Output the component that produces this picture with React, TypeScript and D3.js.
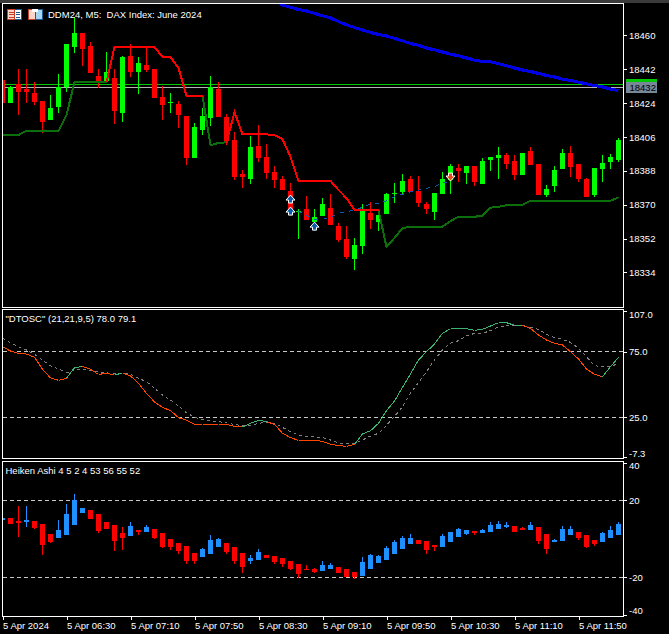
import { useEffect, useRef } from 'react';
import * as d3 from 'd3';

// main chart candles (DDM24, M5)
const mainOpen = [
  18436.3, 18424.3, 18434.2, 18431.6, 18429.4, 18425.2, 18415.1, 18422.0, 18432.4, 18453.9,
  18461.3, 18454.4, 18438.5, 18435.6, 18437.4, 18418.8, 18449.1, 18440.6, 18444.3, 18442.2,
  18427.3, 18424.1, 18423.6, 18417.2, 18394.9, 18409.8, 18416.1, 18431.5, 18416.6, 18404.4,
  18386.3, 18383.6, 18401.2, 18395.3, 18387.4, 18383.6, 18377.3, 18366.1, 18367.7, 18360.8,
  18364.0, 18368.2, 18358.6, 18351.7, 18341.1, 18348.0, 18365.6, 18360.8, 18365.0, 18375.7,
  18376.7, 18383.6, 18377.3, 18370.3, 18366.1, 18375.7, 18383.2, 18389.6, 18386.9, 18390.6,
  18381.0, 18393.8, 18394.9, 18396.5, 18393.3, 18385.8, 18398.6, 18391.6, 18375.2, 18380.0,
  18389.0, 18397.5, 18391.6, 18383.7, 18375.2, 18389.0, 18392.7, 18393.8,
];
const mainClose = [
  18424.3, 18432.4, 18430.0, 18430.0, 18424.6, 18414.0, 18421.5, 18432.4, 18455.5, 18461.3,
  18452.8, 18440.1, 18435.6, 18440.6, 18419.9, 18448.6, 18440.6, 18445.4, 18441.7, 18426.8,
  18423.0, 18424.6, 18417.7, 18394.9, 18411.3, 18417.2, 18432.4, 18416.6, 18403.9, 18384.7,
  18384.7, 18400.7, 18394.8, 18386.8, 18383.1, 18377.8, 18367.2, 18366.6, 18361.8, 18363.4,
  18370.3, 18359.2, 18351.2, 18342.2, 18348.5, 18366.6, 18361.8, 18364.5, 18375.7, 18376.2,
  18382.6, 18376.7, 18370.9, 18367.7, 18376.3, 18383.7, 18390.6, 18388.0, 18390.6, 18382.1,
  18393.3, 18395.4, 18396.5, 18391.6, 18385.8, 18397.5, 18391.1, 18375.2, 18378.4, 18388.5,
  18397.5, 18390.0, 18383.7, 18374.1, 18389.6, 18392.2, 18395.4, 18404.4,
];
const mainHigh = [
  18436.3, 18433.2, 18442.2, 18442.2, 18435.3, 18425.2, 18428.4, 18439.5, 18455.5, 18470.0,
  18461.3, 18456.6, 18442.2, 18451.2, 18442.2, 18449.1, 18455.5, 18448.6, 18453.9, 18442.2,
  18433.2, 18429.4, 18425.2, 18417.2, 18413.5, 18421.5, 18438.5, 18435.2, 18418.2, 18408.6,
  18388.4, 18406.5, 18412.4, 18402.3, 18390.6, 18385.2, 18381.5, 18367.7, 18374.6, 18367.7,
  18373.5, 18375.7, 18360.2, 18358.6, 18352.3, 18370.3, 18371.4, 18366.6, 18376.2, 18381.5,
  18386.3, 18385.2, 18385.2, 18371.4, 18376.3, 18387.4, 18391.7, 18391.7, 18390.6, 18390.6,
  18394.9, 18395.4, 18400.7, 18397.5, 18396.5, 18397.5, 18400.7, 18391.6, 18380.5, 18390.6,
  18399.7, 18401.3, 18391.6, 18384.2, 18389.6, 18396.5, 18397.0, 18405.5,
];
const mainLow = [
  18424.3, 18424.3, 18417.7, 18424.1, 18423.0, 18408.2, 18415.1, 18418.8, 18430.0, 18450.7,
  18443.8, 18440.1, 18432.1, 18435.3, 18412.9, 18414.0, 18437.9, 18428.9, 18440.6, 18426.8,
  18415.1, 18418.8, 18410.8, 18391.1, 18394.9, 18407.1, 18411.9, 18416.6, 18401.7, 18383.1,
  18378.9, 18381.0, 18392.7, 18383.6, 18378.9, 18377.8, 18367.2, 18351.7, 18361.8, 18360.8,
  18364.0, 18359.2, 18350.1, 18341.1, 18335.2, 18343.7, 18357.0, 18356.0, 18365.0, 18370.9,
  18375.1, 18376.7, 18368.7, 18365.0, 18361.9, 18375.7, 18375.7, 18382.1, 18381.0, 18380.0,
  18381.0, 18388.0, 18383.7, 18389.0, 18383.2, 18385.8, 18391.1, 18375.2, 18374.1, 18376.8,
  18389.0, 18384.7, 18382.1, 18374.1, 18374.1, 18382.1, 18389.0, 18392.7,
];

// trailing stop, green below / red above, n = no value on that bar
const n = null;
const stopUp = [
  18407.1, 18407.1, 18407.1, 18409.3, 18409.3, 18409.3, 18409.3, 18409.3, 18417.7, 18435.2,
  18435.2, 18435.2, 18435.2, 18435.2, n, n, n, n, n, n,
  n, n, n, n, n, 18427.8, 18401.7, 18402.8, 18403.2, n,
  n, n, n, n, n, n, n, n, n, n,
  n, n, n, n, n, n, n, 18367.2, 18347.5, 18352.3,
  18357.6, 18358.3, 18358.3, 18358.3, 18358.3, 18358.3, 18361.3, 18363.6, 18363.6, 18363.6,
  18364.1, 18368.4, 18368.9, 18369.7, 18370.0, 18370.0, 18372.1, 18372.1, 18372.1, 18372.1,
  18372.1, 18372.1, 18372.1, 18372.1, 18372.1, 18372.1, 18372.1, 18373.9,
];
const stopDown = [
  n, n, n, n, n, n, n, n, n, n,
  n, n, n, 18435.2, 18453.9, 18453.9, 18453.9, 18453.9, 18453.9, 18453.9,
  18448.5, 18448.5, 18442.7, 18427.8, 18427.8, 18427.8, n, n, 18402.8, 18419.3,
  18407.4, 18407.4, 18407.4, 18407.4, 18407.0, 18404.9, 18395.5, 18382.7, 18382.7, 18382.7,
  18382.7, 18382.7, 18377.8, 18373.5, 18367.2, 18367.2, 18367.2, 18367.2, n, n,
  n, n, n, n, n, n, n, n, n, n,
  n, n, n, n, n, n, n, n, n, n,
  n, n, n, n, n, n, n, n,
];

// slow average, starts above the visible range and comes down
const slowAvgStart = 34;
const slowAvg = [
  18478.9, 18476.2, 18474.9, 18473.8, 18473.0, 18471.7, 18470.4, 18469.3, 18467.4, 18465.6, 18464.2,
  18462.9, 18461.6, 18460.5, 18459.7, 18458.4, 18457.1, 18455.7, 18454.7, 18453.3, 18452.3,
  18451.2, 18450.1, 18449.1, 18448.0, 18446.9, 18446.1, 18445.9, 18445.1, 18443.8, 18442.7,
  18441.6, 18440.8, 18439.8, 18438.7, 18437.9, 18436.8, 18436.0, 18435.2, 18434.2, 18433.4,
  18432.6, 18431.5, 18430.7,
];

// dashed average between the first buy arrows and the sell arrow
const fastAvgStart = 37;
const fastAvg = [
  18366.6, 18364.5, 18362.2, 18362.2, 18363.3, 18365.4, 18366.3, 18367.2, 18368.6, 18370.4,
  18370.7, 18372.1, 18374.2, 18375.5, 18376.9, 18377.8, 18378.7, 18379.6, 18381.4, 18382.7,
];

const buyBars = [36, 36, 39];
const buyPrices = [18373.0, 18366.6, 18358.6];
const sellBars = [56];
const sellPrices = [18384.7];

const openLevel = 18434;
const bidLevel = 18432.4;
const priceTicks = [18460, 18442, 18424, 18406, 18388, 18370, 18352, 18334];

// DTOSC
const oscMain = [
  78.8, 75.5, 73.7, 73.2, 70.7, 61.6, 55.0, 53.2, 54.7, 62.8,
  63.8, 61.6, 57.7, 58.5, 57.2, 58.8, 56.5, 50.9, 43.3, 36.7,
  32.6, 30.1, 24.7, 22.9, 19.6, 19.1, 19.6, 19.9, 19.6, 18.1,
  17.6, 20.4, 22.7, 21.7, 19.6, 12.8, 9.5, 7.4, 7.4, 7.4,
  6.7, 4.4, 3.4, 2.9, 4.4, 12.3, 14.8, 20.4, 30.1, 37.4,
  47.8, 58.0, 68.7, 75.0, 80.9, 89.0, 92.5, 92.5, 92.5, 91.3,
  92.0, 94.6, 97.1, 97.1, 95.1, 95.1, 92.8, 87.7, 83.9, 81.4,
  80.1, 75.0, 69.4, 61.8, 57.7, 56.0, 63.6, 70.7,
];
const oscSignal = [
  85.2, 81.9, 78.8, 76.3, 73.0, 68.7, 64.3, 61.8, 59.0, 61.0,
  61.8, 60.8, 59.8, 59.0, 58.0, 58.5, 57.7, 54.7, 52.2, 47.1,
  42.0, 38.2, 33.6, 28.5, 25.0, 23.4, 22.4, 21.7, 20.7, 19.6,
  18.6, 18.6, 20.4, 21.2, 20.4, 17.3, 14.0, 11.5, 10.2, 10.0,
  9.5, 7.7, 5.4, 4.9, 4.9, 7.7, 10.7, 12.8, 18.9, 25.7,
  33.1, 43.3, 51.4, 59.8, 68.7, 76.3, 81.4, 83.4, 87.0, 89.0,
  89.0, 91.0, 94.1, 94.6, 95.1, 95.1, 93.6, 92.0, 88.2, 85.7,
  84.4, 82.1, 77.6, 71.2, 64.3, 63.6, 63.6, 66.1,
];
// bars where the main line is drawn green up to the next bar
const oscUpRanges = [[8, 10], [14, 15], [30, 33], [44, 65], [75, 77]];
const oscLevels = [75, 25];
const oscTicks = [107, 75, 25, -7.3];

// Heiken Ashi
const haOpen = [
  9.8, 10.8, 9.3, 8.7, 9.3, 7.7, 2.5, 0.4, 2.0, 7.2,
  13.4, 15.0, 12.9, 8.7, 7.2, 3.0, 1.4, 4.6, 3.5, 5.1,
  3.0, -0.1, -2.2, -3.7, -7.4, -9.5, -7.9, -4.3, -2.2, -4.3,
  -7.4, -11.5, -11.0, -8.4, -9.0, -10.0, -11.5, -13.1, -15.7, -15.7,
  -16.7, -15.7, -14.6, -15.7, -17.2, -19.3, -15.7, -12.6, -11.0, -7.9,
  -5.3, -2.7, -0.6, -1.1, -3.2, -4.3, -1.7, 0.9, 2.5, 4.1,
  3.0, 3.5, 5.1, 6.1, 6.7, 5.6, 4.6, 6.1, 2.5, -1.7,
  -1.1, 2.0, 3.5, 2.0, -0.6, -1.7, 0.4, 2.0,
];
const haClose = [
  10.8, 7.9, 8.2, 9.8, 5.6, -3.2, -1.7, 4.6, 12.9, 20.2,
  16.0, 10.3, 4.1, 5.1, -1.1, 0.4, 6.7, 3.5, 6.1, 0.4,
  -4.3, -4.3, -6.3, -11.5, -11.5, -5.3, -0.6, -0.1, -6.9, -11.5,
  -14.6, -10.0, -6.9, -10.0, -12.1, -13.1, -15.7, -18.3, -16.2, -17.2,
  -13.6, -13.6, -17.8, -19.8, -19.8, -12.1, -8.4, -9.0, -4.8, -1.7,
  0.4, 0.4, -2.7, -5.8, -4.3, 1.4, 3.5, 5.1, 4.6, 3.0,
  4.6, 7.2, 7.7, 7.2, 3.5, 4.8, 7.2, -1.1, -5.3, -0.6,
  5.1, 5.1, 0.4, -4.3, -2.7, 3.0, 4.6, 7.7,
];
const haHigh = [
  10.8, 10.8, 17.0, 17.0, 9.3, 7.7, 2.5, 9.8, 18.1, 23.3,
  16.0, 15.0, 12.9, 8.7, 7.2, 6.1, 8.7, 4.6, 7.2, 5.1,
  3.0, -0.1, -2.2, -3.7, -7.4, -4.8, 2.0, 0.4, -2.2, -4.3,
  -7.4, -8.4, -5.3, -8.4, -9.0, -10.0, -11.5, -13.1, -13.6, -15.2,
  -11.5, -12.6, -14.6, -15.7, -17.2, -9.5, -7.9, -8.4, -3.7, -0.6,
  1.4, 2.5, -0.6, -1.1, -3.2, 2.5, 3.5, 5.6, 4.6, 4.1,
  5.1, 8.7, 9.3, 8.7, 6.7, 6.1, 8.7, 6.1, 2.5, -0.1,
  6.7, 6.7, 3.5, 2.0, -0.6, 3.5, 6.7, 8.7,
];
const haLow = [
  9.8, 7.9, 0.9, 6.1, 5.1, -8.4, -2.2, 0.4, 2.0, 7.2,
  13.4, 10.3, 3.0, 5.1, -6.3, -5.8, 1.4, 2.0, 3.5, -0.1,
  -4.8, -5.8, -7.9, -13.1, -13.1, -9.5, -7.9, -4.3, -7.9, -13.1,
  -17.8, -13.1, -11.0, -10.0, -13.1, -14.6, -16.2, -20.4, -16.2, -17.8,
  -16.7, -15.7, -17.8, -19.8, -20.9, -19.3, -15.7, -12.6, -11.0, -7.9,
  -5.3, -2.7, -2.7, -7.9, -6.3, -4.3, -1.7, 0.9, 2.0, 2.0,
  3.0, 3.5, 5.1, 5.6, 3.5, 4.8, 4.6, -2.7, -7.9, -1.7,
  -1.1, 2.0, -0.6, -4.8, -3.7, -1.7, 0.4, 2.0,
];
const haLevels = [20, -20];
const haTicks = [40, 20, -20, -40];

const timeTickBars = [0, 8, 16, 24, 32, 40, 48, 56, 64, 72];
const timeLabels = [
  '5 Apr 2024', '5 Apr 06:30', '5 Apr 07:10', '5 Apr 07:50', '5 Apr 08:30',
  '5 Apr 09:10', '5 Apr 09:50', '5 Apr 10:30', '5 Apr 11:10', '5 Apr 11:50',
];

const FONT = '"Liberation Sans", Arial, sans-serif';
const RIGHT = 623.5;
const LEFT = 2.5;

type G = d3.Selection<SVGGElement, unknown, null, undefined>;
type Scale = d3.ScaleLinear<number, number>;

export default function App() {
  const svgRef = useRef<SVGSVGElement>(null);

  useEffect(() => {
    if (!svgRef.current) return;
    const svg = d3.select(svgRef.current);
    svg.selectAll('*').remove();

    const bars = d3.range(mainOpen.length);
    const x = d3.scaleLinear().domain([0, 77]).range([2.5, 618.5]);
    const yMain = d3.scaleLinear().domain([18442, 18370]).range([69.3, 204.7]);
    const yOsc = d3.scaleLinear().domain([75, 25]).range([351.7, 417.3]);
    const yHa = d3.scaleLinear().domain([20, -20]).range([500.3, 577.3]);

    const defs = svg.append('defs');
    const addClip = (id: string, top: number, bottom: number) => {
      defs.append('clipPath').attr('id', id).append('rect')
        .attr('x', LEFT + 0.5).attr('y', top)
        .attr('width', RIGHT - LEFT - 0.5).attr('height', bottom - top);
    };
    addClip('clip-main', 4, 307);
    addClip('clip-osc', 310, 458);
    addClip('clip-ha', 462, 616);

    const root = svg.append('g').attr('shape-rendering', 'crispEdges')
      .style('font-family', FONT).style('font-size', '9.5px');

    // strip above the chart
    root.append('rect').attr('width', 669).attr('height', 3).attr('fill', '#3a3a3a');

    const main = root.append('g').attr('clip-path', 'url(#clip-main)') as unknown as G;
    const osc = root.append('g').attr('clip-path', 'url(#clip-osc)') as unknown as G;
    const ha = root.append('g').attr('clip-path', 'url(#clip-ha)') as unknown as G;

    const drawCandles = (
      g: G, y: Scale, open: number[], close: number[], high: number[], low: number[],
      upColor: string, downColor: string,
    ) => {
      const color = (i: number) => (close[i] >= open[i] ? upColor : downColor);
      g.selectAll('.wick').data(bars).enter().append('line')
        .attr('class', 'wick')
        .attr('x1', (i) => x(i)).attr('x2', (i) => x(i))
        .attr('y1', (i) => y(high[i])).attr('y2', (i) => y(low[i]))
        .attr('stroke', color);
      g.selectAll('.body').data(bars).enter().append('rect')
        .attr('class', 'body')
        .attr('x', (i) => x(i) - 2.5)
        .attr('width', 5)
        .attr('y', (i) => y(Math.max(open[i], close[i])))
        .attr('height', (i) => Math.max(1, Math.abs(y(open[i]) - y(close[i]))))
        .attr('fill', color);
    };

    const drawLevel = (g: G, yPos: number, color: string, dash?: string) => {
      g.append('line')
        .attr('x1', LEFT).attr('x2', RIGHT)
        .attr('y1', yPos).attr('y2', yPos)
        .attr('stroke', color)
        .attr('stroke-dasharray', dash ?? null);
    };

    // Main panel
    drawLevel(main, yMain(openLevel), '#00c800');
    drawLevel(main, yMain(bidLevel), '#b4b4b4');
    drawCandles(main, yMain, mainOpen, mainClose, mainHigh, mainLow, '#00ff00', '#ff0000');

    const priceLine = d3.line<number | null>()
      .defined((d) => d !== null)
      .x((_, i) => x(i))
      .y((d) => yMain(d as number));

    main.append('path').datum(stopUp).attr('d', priceLine)
      .attr('fill', 'none').attr('stroke', '#0b700b').attr('stroke-width', 2);
    main.append('path').datum(stopDown).attr('d', priceLine)
      .attr('fill', 'none').attr('stroke', '#ff0000').attr('stroke-width', 2);

    main.append('path').datum(slowAvg)
      .attr('d', d3.line<number>().x((_, i) => x(i + slowAvgStart)).y((d) => yMain(d)))
      .attr('fill', 'none').attr('stroke', '#0000e6').attr('stroke-width', 3);
    main.append('path').datum(fastAvg)
      .attr('d', d3.line<number>().x((_, i) => x(i + fastAvgStart)).y((d) => yMain(d)))
      .attr('fill', 'none').attr('stroke', '#0a5cb0').attr('stroke-dasharray', '4,5');

    // signal arrows
    const upArrow = 'M0,-4 L4.5,1 L2,1 L2,4 L-2,4 L-2,1 L-4.5,1 Z';
    const downArrow = 'M0,4 L4.5,-1 L2,-1 L2,-4 L-2,-4 L-2,-1 L-4.5,-1 Z';
    const arrows = root.append('g').attr('shape-rendering', 'auto');
    buyBars.forEach((b, i) => {
      arrows.append('path').attr('d', upArrow)
        .attr('transform', `translate(${x(b)},${yMain(buyPrices[i])})`)
        .attr('fill', '#0a5ca8').attr('stroke', '#fff');
    });
    sellBars.forEach((b, i) => {
      arrows.append('path').attr('d', downArrow)
        .attr('transform', `translate(${x(b)},${yMain(sellPrices[i])})`)
        .attr('fill', '#e8481a').attr('stroke', '#fff');
    });

    // Oscillator panel
    oscLevels.forEach((l) => drawLevel(osc, yOsc(l), '#c8c8c8', '4,3'));
    osc.append('path').datum(oscSignal)
      .attr('d', d3.line<number>().x((_, i) => x(i)).y((d) => yOsc(d)))
      .attr('fill', 'none').attr('stroke', '#808080').attr('stroke-dasharray', '3,3');
    const isUp = (i: number) => oscUpRanges.some(([a, b]) => i >= a && i < b);
    const oscSegment = d3.line<number>().x((i) => x(i)).y((i) => yOsc(oscMain[i]));
    bars.slice(0, -1).forEach((i) => {
      osc.append('path').datum([i, i + 1]).attr('d', oscSegment)
        .attr('fill', 'none').attr('stroke', isUp(i) ? '#3cb371' : '#ff4500');
    });

    // Heiken Ashi panel
    haLevels.forEach((l) => drawLevel(ha, yHa(l), '#c8c8c8', '4,3'));
    drawCandles(ha, yHa, haOpen, haClose, haHigh, haLow, '#1e90ff', '#ff0000');

    // Panel frames
    [[3.5, 307.5], [309.5, 458.5], [461.5, 616.5]].forEach(([top, bottom]) => {
      root.append('rect')
        .attr('x', LEFT).attr('y', top)
        .attr('width', RIGHT - LEFT).attr('height', bottom - top)
        .attr('fill', 'none').attr('stroke', '#fff');
    });

    // Value axes, the outer labels of a panel are pinned inside it
    const drawAxis = (
      scale: Scale, values: number[], fmt: (d: number) => string,
      pinned: Record<string, [number, number]> = {},
    ) => {
      const g = root.append('g').attr('transform', `translate(${RIGHT - 0.5},0)`);
      g.call(
        d3.axisRight(scale)
          .tickValues(values)
          .tickSize(4)
          .tickPadding(2)
          .tickFormat((d) => fmt(d as number)) as never,
      );
      g.select('.domain').remove();
      g.attr('font-family', null).attr('font-size', null);
      g.selectAll('line').attr('stroke', '#fff');
      g.selectAll('text').attr('fill', '#fff');
      g.selectAll<SVGGElement, number>('.tick').each(function (d) {
        const pin = pinned[String(d)];
        if (!pin) return;
        d3.select(this).attr('transform', `translate(0,${pin[0]})`);
        d3.select(this).select('text').attr('y', pin[1] - pin[0]);
      });
      return g;
    };
    drawAxis(yMain, priceTicks, (d) => String(d));
    drawAxis(yOsc, oscTicks, (d) => d.toFixed(1), { '107': [311.5, 314.5], '-7.3': [457.5, 454] });
    drawAxis(yHa, haTicks, (d) => String(d), { '40': [463.5, 466], '-40': [615.5, 610.7] });

    // Time axis
    const timeAxis = root.append('g').attr('transform', 'translate(0,616)');
    timeAxis.call(
      d3.axisBottom(x)
        .tickValues(timeTickBars)
        .tickSize(4)
        .tickPadding(2)
        .tickFormat((_, i) => timeLabels[i]) as never,
    );
    timeAxis.select('.domain').remove();
    timeAxis.attr('font-family', null).attr('font-size', null);
    timeAxis.selectAll('line').attr('stroke', '#fff');
    timeAxis.selectAll('text').attr('fill', '#fff').attr('text-anchor', 'start');

    // Price tag on the right
    const tag = root.append('g');
    tag.append('rect').attr('x', 626).attr('y', 79).attr('width', 31).attr('height', 3).attr('fill', '#00c800');
    tag.append('rect').attr('x', 626).attr('y', 82).attr('width', 31).attr('height', 11).attr('fill', '#778899');
    tag.append('text').attr('x', 629.5).attr('y', 91).attr('fill', '#000').text('18432');

    // Titles
    const title = (tx: number, ty: number, s: string) => {
      root.append('text').attr('x', tx).attr('y', ty).attr('fill', '#fff')
        .style('white-space', 'pre').text(s);
    };
    title(48, 17.5, 'DDM24, M5:  DAX Index: June 2024');
    title(5.5, 321.5, '"DTOSC" (21,21,9,5) 78.0 79.1');
    title(5.5, 473.5, 'Heiken Ashi 4 5 2 4 53 56 55 52');

    // Toolbar icons in the corner
    const icons = root.append('g');
    icons.append('rect').attr('x', 7.5).attr('y', 9.5).attr('width', 14).attr('height', 10)
      .attr('fill', '#fff').attr('stroke', '#1c5a96');
    icons.append('rect').attr('x', 7.5).attr('y', 9.5).attr('width', 7).attr('height', 10)
      .attr('fill', '#fbd5c8').attr('stroke', '#c8402a');
    [12, 14.5, 17].forEach((ly) => {
      icons.append('line').attr('x1', 9).attr('x2', 13.5).attr('y1', ly).attr('y2', ly).attr('stroke', '#c8402a');
      icons.append('line').attr('x1', 15.5).attr('x2', 20).attr('y1', ly).attr('y2', ly).attr('stroke', '#1c5a96');
    });
    icons.append('rect').attr('x', 28.5).attr('y', 9.5).attr('width', 7).attr('height', 10)
      .attr('fill', '#fbd5c8').attr('stroke', '#c8402a');
    icons.append('rect').attr('x', 35.5).attr('y', 9.5).attr('width', 7).attr('height', 10)
      .attr('fill', '#a8d4f0').attr('stroke', '#1c5a96');
    icons.append('rect').attr('x', 32).attr('y', 9).attr('width', 6).attr('height', 3).attr('fill', '#fff');
  }, []);

  return (
    <svg
      ref={svgRef}
      width={669}
      height={634}
      style={{ position: 'absolute', left: 0, top: 0, display: 'block', background: '#000' }}
    />
  );
}
